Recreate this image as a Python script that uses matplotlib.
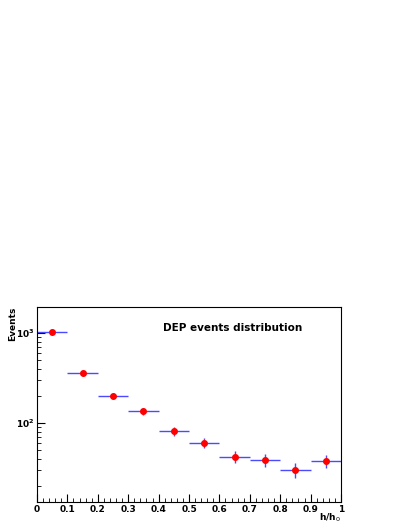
import numpy as np
import matplotlib.pyplot as plt
from matplotlib.ticker import FixedLocator, NullFormatter

# bin centres and counts
bin_centres = [0.05, 0.15, 0.25, 0.35, 0.45, 0.55, 0.65, 0.75, 0.85, 0.95]
counts = [1020, 360, 202, 135, 81, 60, 42, 39, 30, 38]
bin_half_width = 0.05

counts_arr = np.array(counts, dtype=float)
errors = np.sqrt(counts_arr)

fig = plt.figure(figsize=(4.09, 5.29), dpi=100)
ax = fig.add_axes([37 / 409, 1 - 502 / 529, 304 / 409, 195 / 529])

ax.errorbar(bin_centres, counts, xerr=bin_half_width, yerr=errors, fmt='none',
            ecolor='#4a4aff', elinewidth=1.0, capsize=0)
ax.plot(bin_centres, counts, 'o', color='red', markersize=4)

ax.set_yscale('log')
ax.set_xlim(0, 1)
ax.set_ylim(13.2, 1950)

ax.set_xticks(np.arange(0, 1.01, 0.1))
ax.set_xticklabels(['0', '0.1', '0.2', '0.3', '0.4', '0.5', '0.6', '0.7', '0.8', '0.9', '1'])
ax.xaxis.set_minor_locator(FixedLocator(np.arange(0, 1.001, 0.02)))
ax.yaxis.set_minor_formatter(NullFormatter())
ax.tick_params(which='both', direction='in', labelsize=6.5, top=False, right=False, pad=2)
ax.tick_params(which='major', length=6)
ax.tick_params(which='minor', length=3)
for lab in ax.get_xticklabels() + ax.get_yticklabels():
    lab.set_fontweight('bold')

# axis titles placed like the ROOT canvas does
fig.text(13 / 409, 1 - 307 / 529, 'Events', rotation=90, fontsize=6.5,
         fontweight='bold', ha='center', va='top')
fig.text(341 / 409, 1 - 518 / 529, r'h/h$_0$', fontsize=6.5,
         fontweight='bold', ha='right', va='center')
ax.text(0.414, 0.89, 'DEP events distribution', transform=ax.transAxes,
        fontsize=7.5, fontweight='bold', va='center')

fig.savefig('out.png', dpi=100)
